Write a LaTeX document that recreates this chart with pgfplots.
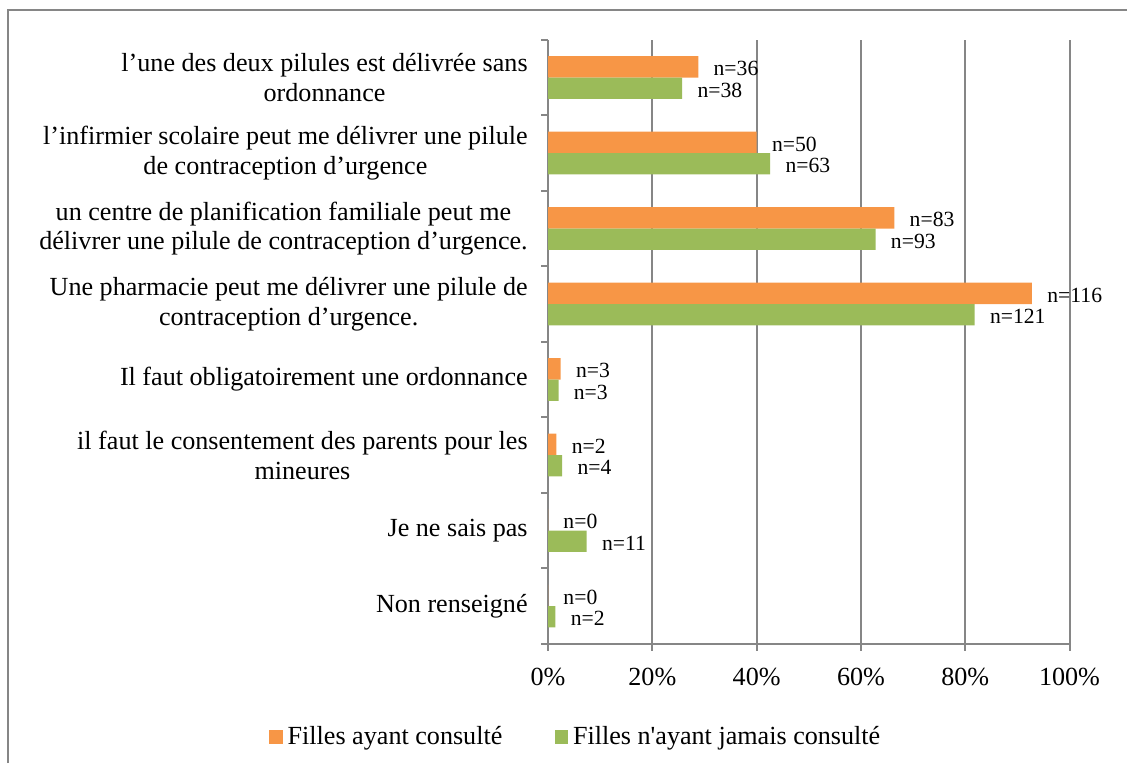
\documentclass[border=0pt]{standalone}
\usepackage{fontspec}
\setmainfont{Liberation Serif}
\newfontfamily\rawserif{Liberation Serif}[Ligatures=TeXOff]
\usepackage{pgfplots}
\pgfplotsset{compat=1.18}
\definecolor{xlorange}{RGB}{247,150,70}
\definecolor{xlgreen}{RGB}{155,187,89}
\definecolor{xlgray}{RGB}{134,134,134}

\begin{document}
\begin{tikzpicture}
\useasboundingbox (0,0) rectangle (453pt,-306.7pt);
\draw[xlgray,line width=0.8pt] (3.2pt,-306.7pt) -- (3.2pt,-4pt) -- (453pt,-4pt);
\begin{axis}[
  at={(220.3pt,-258.8pt)},anchor=south west,
  scale only axis,width=209.6pt,height=242.8pt,
  xbar,bar width=8.6pt,
  xmin=0,xmax=100,ymin=-0.5,ymax=7.5,
  axis lines=left,axis line style={-,xlgray,line width=0.8pt},
  xmajorgrids,grid style={xlgray,line width=0.8pt},
  tick align=outside,
  xtick={0,20,...,100},
  xticklabels={0\%,20\%,40\%,60\%,80\%,100\%},
  ytick={0,...,7},
  yticklabels={{Non renseigné},{Je ne sais pas},
    {il faut le consentement des parents pour les\\mineures},
    {Il faut obligatoirement une ordonnance},
    {Une pharmacie peut me délivrer une pilule de\\contraception d’urgence.},
    {un centre de planification familiale peut me\\délivrer une pilule de contraception d’urgence.},
    {l’infirmier scolaire peut me délivrer une pilule\\de contraception d’urgence},
    {l’une des deux pilules est délivrée sans\\ordonnance}},
  minor ytick={-0.5,0.5,...,7.5},
  major tick length=2.8pt,
  every major y tick/.style={draw=none},
  every minor y tick/.style={xlgray,line width=0.8pt},
  every major x tick/.style={xlgray,line width=0.8pt},
  minor tick length=2.8pt,
  yticklabel style={align=center,inner sep=0pt,xshift=-5.2pt,
    font=\fontsize{10.5}{12}\selectfont},
  xticklabel style={font=\fontsize{10.5}{12}\selectfont,yshift=-3.4pt},
  nodes near coords,point meta=explicit symbolic,
  every node near coord/.append style={anchor=west,inner sep=0pt,
    xshift=6pt,yshift=-0.8pt,font=\fontsize{8.7}{10}\selectfont,text=black},
  legend style={draw=none,fill=none,at={(axis description cs:0.056,-0.154)},
    anchor=center,legend columns=2,font=\fontsize{10.5}{12}\selectfont,
    /tikz/every even column/.append style={column sep=19pt}},
  legend image code/.code={\fill[#1] (0pt,-2.7pt) rectangle (5.4pt,2.7pt);},
]
\addplot[fill=xlorange,draw=none,bar shift=4.3pt] coordinates {
(28.8,7) [n=36] (40.0,6) [n=50] (66.4,5) [n=83] (92.8,4) [n=116]
(2.4,3) [n=3] (1.6,2) [n=2] (0,1) [n=0] (0,0) [n=0]};
\addlegendentry{Filles ayant consulté}
\addplot[fill=xlgreen,draw=none,bar shift=-4.3pt] coordinates {
(25.7,7) [n=38] (42.6,6) [n=63] (62.8,5) [n=93] (81.8,4) [n=121]
(2.0,3) [n=3] (2.7,2) [n=4] (7.4,1) [n=11] (1.4,0) [n=2]};
\addlegendentry{Filles n{\rawserif'}ayant jamais consulté}
\end{axis}
\end{tikzpicture}
\end{document}
